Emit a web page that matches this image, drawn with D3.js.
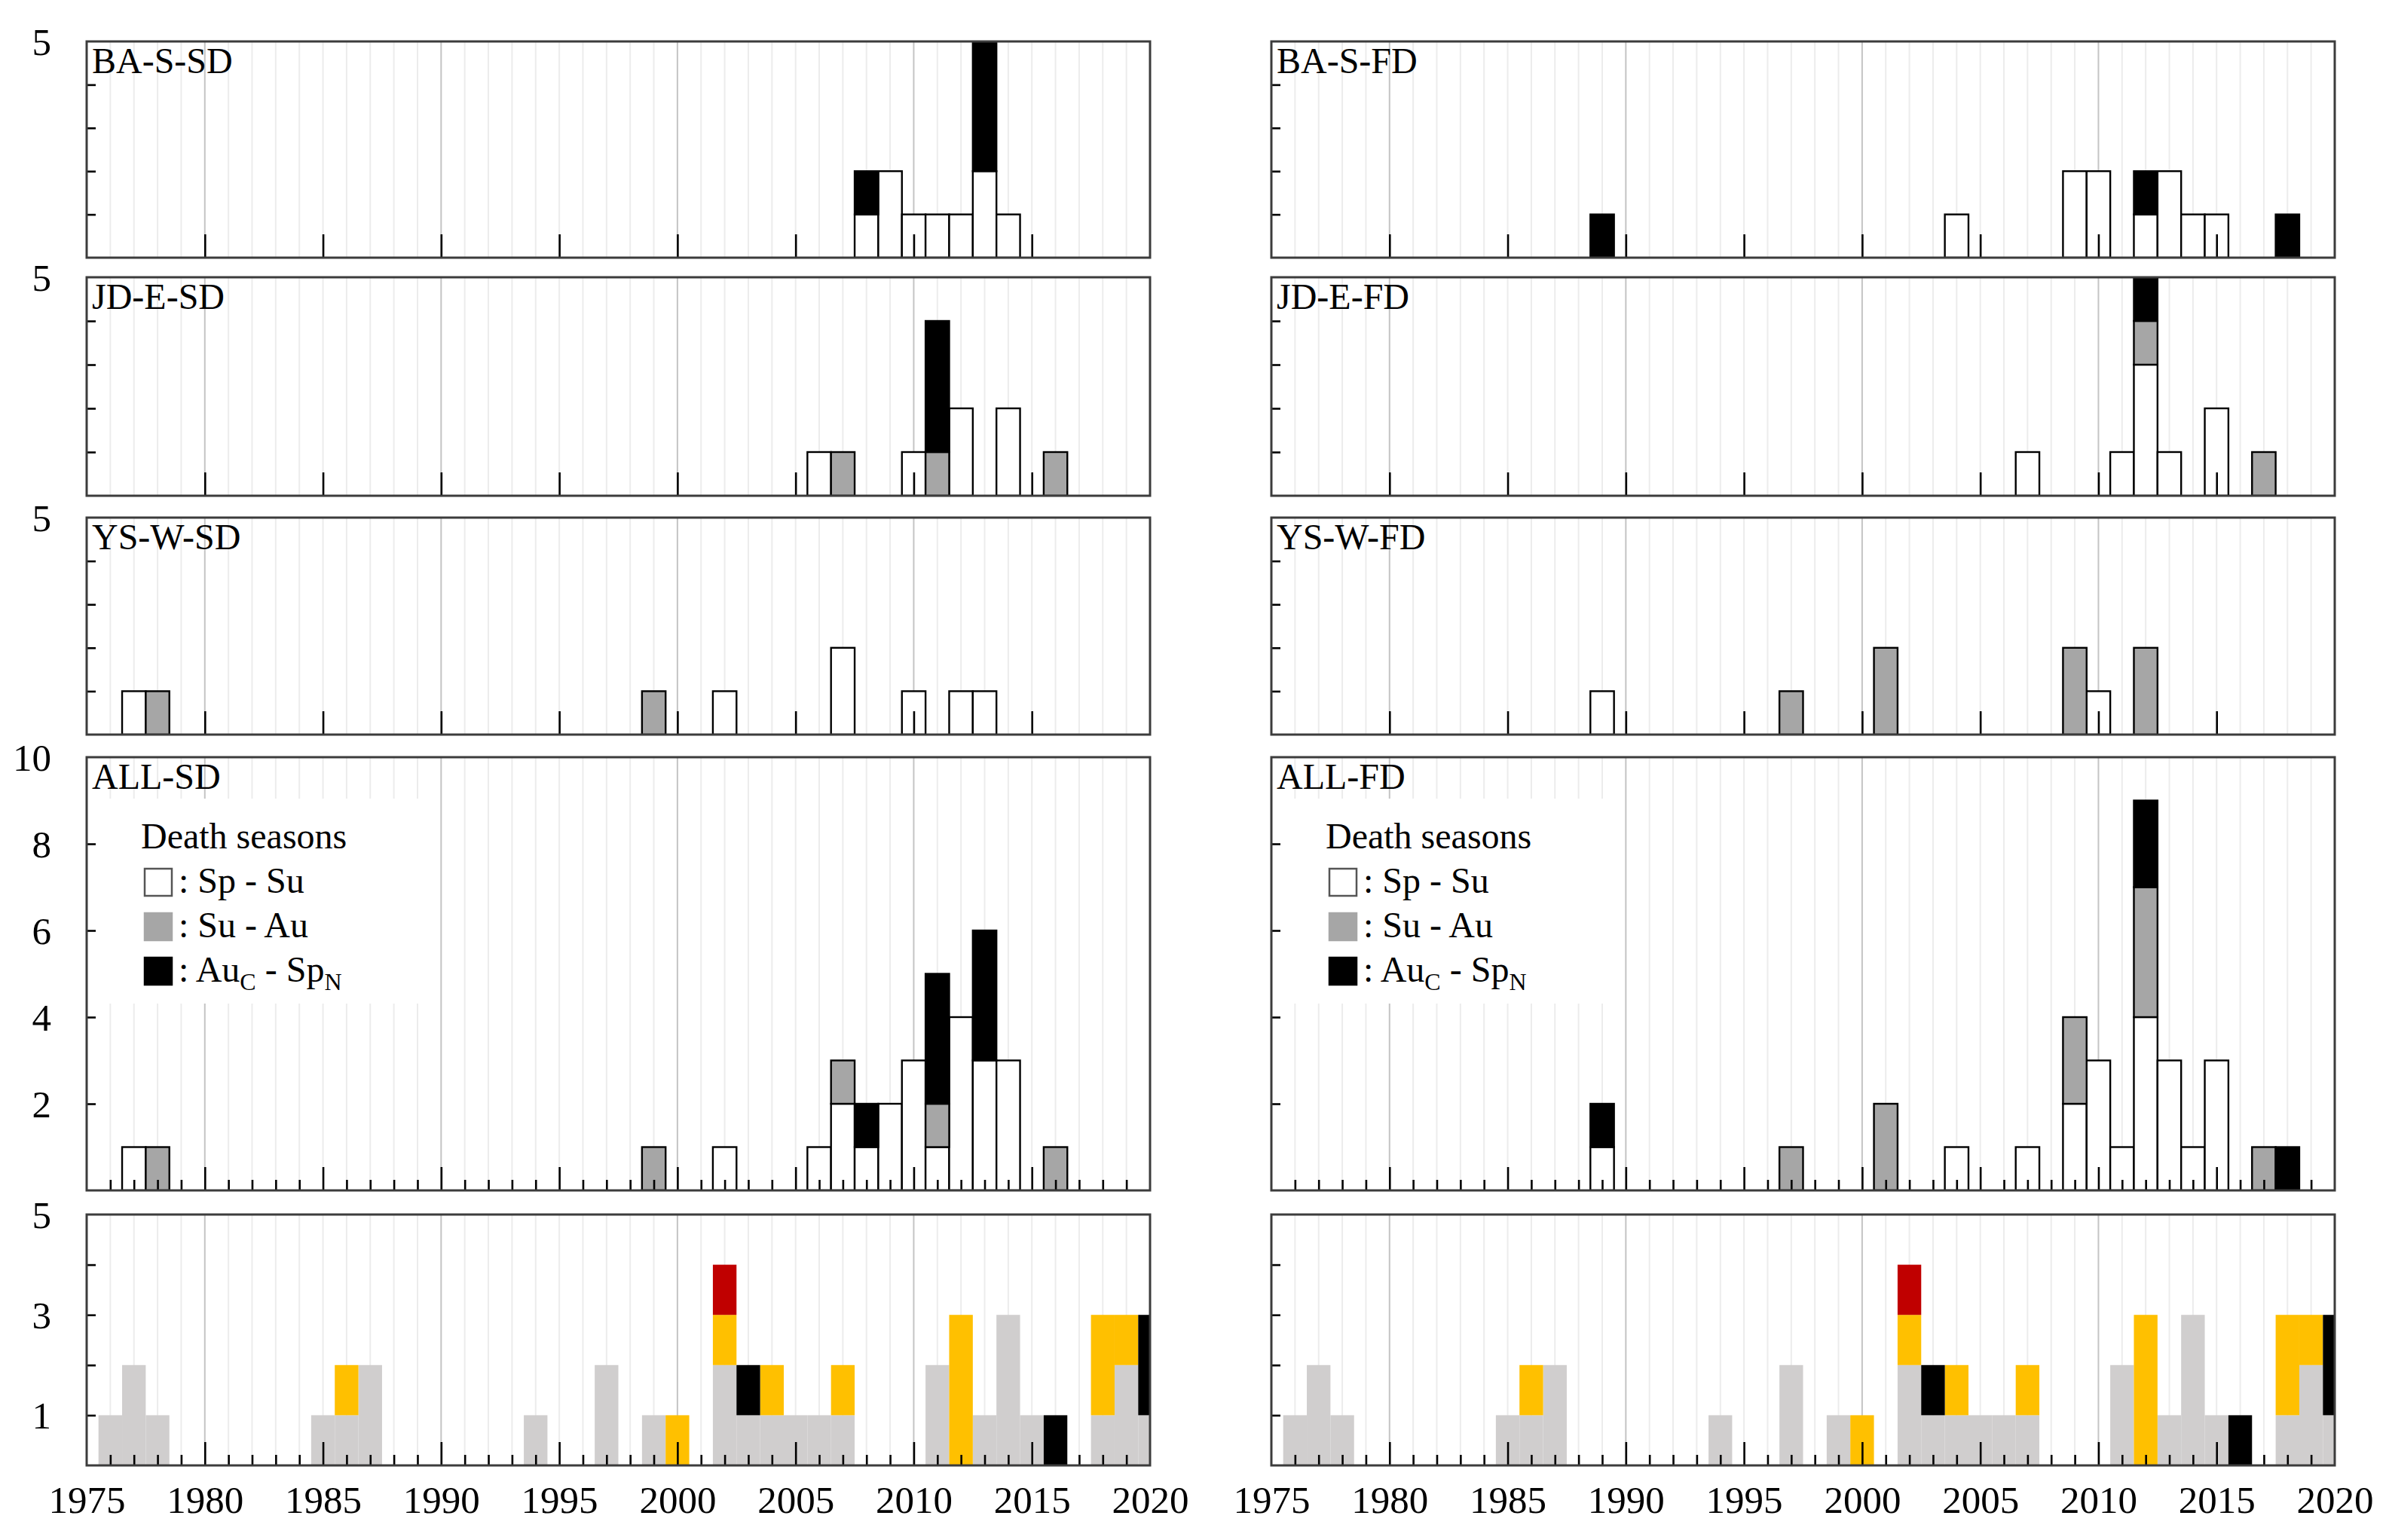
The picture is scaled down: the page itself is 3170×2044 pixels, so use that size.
<!DOCTYPE html>
<html><head><meta charset="utf-8">
<script src="https://cdn.jsdelivr.net/npm/d3@7"></script>
<style>
body{margin:0;background:#fff}
svg{display:block}
text{font-family:"Liberation Serif","Times New Roman",serif;fill:#000}
</style>
</head><body>
<svg id="chart" width="3170" height="2044"></svg>
<script>
// ---------------- DATA ----------------
// rows: [year, Sp-Su, Su-Au, AuC-SpN]
const baSSD = [[2008,1,0,1],[2009,2,0,0],[2010,1,0,0],[2011,1,0,0],[2012,1,0,0],[2013,2,0,3],[2014,1,0,0]];
const jdESD = [[2006,1,0,0],[2007,0,1,0],[2010,1,0,0],[2011,0,1,3],[2012,2,0,0],[2014,2,0,0],[2016,0,1,0]];
const ysWSD = [[1977,1,0,0],[1978,0,1,0],[1999,0,1,0],[2002,1,0,0],[2007,2,0,0],[2010,1,0,0],[2012,1,0,0],[2013,1,0,0]];
const allSD = [[1977,1,0,0],[1978,0,1,0],[1999,0,1,0],[2002,1,0,0],[2006,1,0,0],[2007,2,1,0],[2008,1,0,1],[2009,2,0,0],[2010,3,0,0],[2011,1,1,3],[2012,4,0,0],[2013,3,0,3],[2014,3,0,0],[2016,0,1,0]];

const baSFD = [[1989,0,0,1],[2004,1,0,0],[2009,2,0,0],[2010,2,0,0],[2012,1,0,1],[2013,2,0,0],[2014,1,0,0],[2015,1,0,0],[2018,0,0,1]];
const jdEFD = [[2007,1,0,0],[2011,1,0,0],[2012,3,1,1],[2013,1,0,0],[2015,2,0,0],[2017,0,1,0]];
const ysWFD = [[1989,1,0,0],[1997,0,1,0],[2001,0,2,0],[2009,0,2,0],[2010,1,0,0],[2012,0,2,0]];
const allFD = [[1989,1,0,1],[1997,0,1,0],[2001,0,2,0],[2004,1,0,0],[2007,1,0,0],[2009,2,2,0],[2010,3,0,0],[2011,1,0,0],[2012,4,3,2],[2013,3,0,0],[2014,1,0,0],[2015,3,0,0],[2017,0,1,0],[2018,0,0,1]];

// bottom panels: [year, light grey, yellow, red, black]
const eventRows = [[1976,1,0,0,0],[1977,2,0,0,0],[1978,1,0,0,0],[1985,1,0,0,0],[1986,1,1,0,0],[1987,2,0,0,0],
  [1994,1,0,0,0],[1997,2,0,0,0],[1999,1,0,0,0],[2000,0,1,0,0],[2002,2,1,1,0],[2003,1,0,0,1],[2004,1,1,0,0],
  [2005,1,0,0,0],[2006,1,0,0,0],[2007,1,1,0,0],[2011,2,0,0,0],[2012,0,3,0,0],[2013,1,0,0,0],[2014,3,0,0,0],
  [2015,1,0,0,0],[2016,0,0,0,1],[2018,1,2,0,0],[2019,2,1,0,0],[2020,1,0,0,2]];

const seasonKeys = ["spSu","suAu","auSp"];
const seasonColors = {spSu:"#ffffff", suAu:"#a6a6a6", auSp:"#000000"};
const eventKeys = ["grey","yellow","red","black"];
const eventColors = {grey:"#d0cece", yellow:"#ffc000", red:"#c00000", black:"#000000"};

const xDomain = [1975, 2020];
const xLabelYears = [1975,1980,1985,1990,1995,2000,2005,2010,2015,2020];
const majorTickYears = [1980,1985,1990,1995,2000,2005,2010,2015];
const decadeYears = [1980,1990,2000,2010];

const columns = [
  {panels:[["BA-S-SD",baSSD],["JD-E-SD",jdESD],["YS-W-SD",ysWSD],["ALL-SD",allSD]], yLabels:true},
  {panels:[["BA-S-FD",baSFD],["JD-E-FD",jdEFD],["YS-W-FD",ysWFD],["ALL-FD",allFD]], yLabels:false}
];

// ---------------- LAYOUT ----------------
const colX = [115, 1687];
const W = 1411;
const rowsY = [[55,342],[368,658],[687,975],[1005,1580],[1612,1945]];
const FONT_AX = 51, FONT_LBL = 48;

const svg = d3.select("#chart");
const x = d3.scaleLinear().domain(xDomain).range([0, W]);
const allYears = d3.range(1976, 2020);
const minorYears = allYears.filter(y => y % 5 !== 0);

const toObj = r => ({year:r[0], spSu:r[1], suAu:r[2], auSp:r[3]});
const toEvt = r => ({year:r[0], grey:r[1], yellow:r[2], red:r[3], black:r[4]});

let clipId = 0;
function panel(cx, row, opts) {
  const [top, bot] = rowsY[row];
  const H = bot - top;
  const g = svg.append("g").attr("transform", `translate(${cx},${top})`);
  const y = d3.scaleLinear().domain([0, opts.ymax]).range([H, 0]);
  const id = "clip" + (clipId++);
  g.append("clipPath").attr("id", id).append("rect").attr("width", W).attr("height", H);

  // grid lines
  g.append("g").selectAll("line").data(allYears).join("line")
    .attr("x1", d => x(d)).attr("x2", d => x(d)).attr("y1", 0).attr("y2", H)
    .attr("stroke", d => decadeYears.includes(d) ? "#c4c4c4" : "#ececec")
    .attr("stroke-width", 2);

  // legend background
  if (opts.legend) {
    g.append("rect").attr("x", 6).attr("y", 55).attr("width", 440).attr("height", 272).attr("fill", "#fff");
  }

  // bars
  const barsG = g.append("g").attr("clip-path", `url(#${id})`);
  const stack = d3.stack().keys(opts.keys)(opts.data);
  stack.forEach(layer => {
    barsG.append("g").selectAll("rect").data(layer.filter(d => d[1] > d[0])).join("rect")
      .attr("x", d => x(d.data.year - 0.5))
      .attr("width", x(1976) - x(1975))
      .attr("y", d => y(d[1]))
      .attr("height", d => y(d[0]) - y(d[1]))
      .attr("fill", opts.colors[layer.key])
      .attr("stroke", opts.outline ? "#000" : "none")
      .attr("stroke-width", 2.4);
  });

  // x ticks
  const tickStyle = sel => { sel.select(".domain").remove(); sel.selectAll(".tick line").attr("stroke", "#000").attr("stroke-width", 2.6); };
  if (opts.minor) {
    g.append("g").attr("transform", `translate(0,${H})`)
      .call(d3.axisBottom(x).tickValues(minorYears).tickSize(-14).tickFormat("")).call(tickStyle);
  }
  g.append("g").attr("transform", `translate(0,${H})`)
    .call(d3.axisBottom(x).tickValues(majorTickYears).tickSize(-31).tickFormat("")).call(tickStyle);

  // y ticks
  g.append("g").call(d3.axisLeft(y).tickValues(opts.yTicks).tickSize(-12).tickFormat("")).call(tickStyle);

  // y labels
  if (opts.yLabels) {
    const ya = g.append("g").call(d3.axisLeft(y).tickValues(opts.yLabelVals).tickSize(0).tickPadding(47).tickFormat(d3.format("d")));
    ya.select(".domain").remove();
    ya.selectAll("text").attr("font-size", FONT_AX).attr("font-family", null).attr("dy", "0.34em");
  }

  // frame
  g.append("rect").attr("width", W).attr("height", H).attr("fill", "none")
    .attr("stroke", "#3c3c3c").attr("stroke-width", 3);

  // panel label
  if (opts.label) {
    g.append("text").attr("x", 7).attr("y", 42).attr("font-size", FONT_LBL).text(opts.label);
  }

  // legend
  if (opts.legend) {
    const lg = g.append("g");
    lg.append("text").attr("x", 72).attr("y", 121).attr("font-size", FONT_LBL).text("Death seasons");
    const items = [
      {key:"spSu", parts:[[": Sp - Su", false]]},
      {key:"suAu", parts:[[": Su - Au", false]]},
      {key:"auSp", parts:[[": Au", false],["C", true],[" - Sp", false],["N", true]]}
    ];
    items.forEach((it, i) => {
      const yy = 148 + i * 59;
      lg.append("rect").attr("x", 77).attr("y", yy).attr("width", 36).attr("height", 36)
        .attr("fill", seasonColors[it.key])
        .attr("stroke", it.key === "spSu" ? "#555" : seasonColors[it.key]).attr("stroke-width", 2.5);
      const t = lg.append("text").attr("x", 122).attr("y", yy + 32).attr("font-size", FONT_LBL);
      let sub = false;
      it.parts.forEach(([s, isSub]) => {
        const ts = t.append("tspan").text(s);
        if (isSub && !sub) { ts.attr("font-size", 32).attr("dy", 11); sub = true; }
        else if (!isSub && sub) { ts.attr("dy", -11); sub = false; }
        else if (isSub) { ts.attr("font-size", 32); }
      });
    });
  }

  // x labels
  if (opts.xLabels) {
    const xa = g.append("g").attr("transform", `translate(0,${H})`)
      .call(d3.axisBottom(x).tickValues(xLabelYears).tickSize(0).tickPadding(27).tickFormat(d3.format("d")));
    xa.select(".domain").remove();
    xa.selectAll("text").attr("font-size", FONT_AX).attr("font-family", null);
  }
}

columns.forEach((col, ci) => {
  const cx = colX[ci];
  col.panels.forEach(([label, rows], ri) => {
    const isAll = ri === 3;
    panel(cx, ri, {
      label, data: rows.map(toObj), keys: seasonKeys, colors: seasonColors, outline: true,
      ymax: isAll ? 10 : 5,
      yTicks: isAll ? [2,4,6,8] : [1,2,3,4],
      yLabels: col.yLabels, yLabelVals: isAll ? [2,4,6,8,10] : [5],
      minor: isAll, legend: isAll, xLabels: false
    });
  });
  panel(cx, 4, {
    label: null, data: eventRows.map(toEvt), keys: eventKeys, colors: eventColors, outline: false,
    ymax: 5, yTicks: [1,2,3,4], yLabels: col.yLabels, yLabelVals: [1,3,5],
    minor: true, legend: false, xLabels: true
  });
});
</script>
</body></html>
